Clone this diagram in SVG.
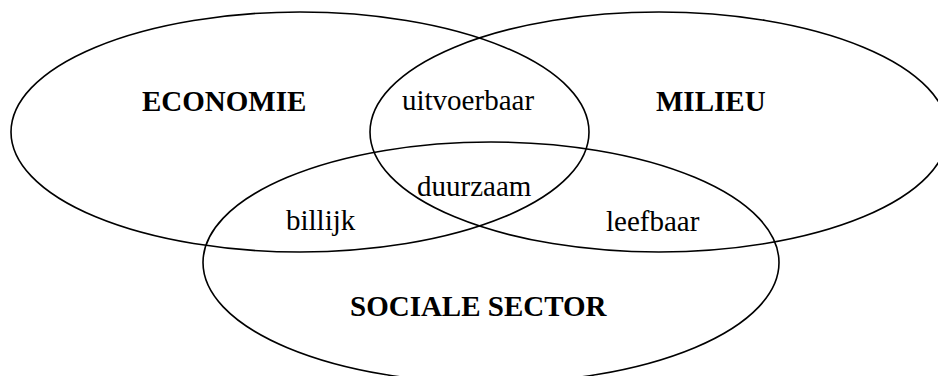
<svg xmlns="http://www.w3.org/2000/svg" width="938" height="376" viewBox="0 0 938 376">
<style>
.ell{fill:none;stroke:#000;stroke-width:1.6}
.t{font-family:"Liberation Serif","Times New Roman",serif;font-size:29px;fill:#000}
.b{font-weight:bold}
</style>
<rect width="938" height="376" fill="#fff"/>
<g id="economie">
<ellipse class="ell" cx="300" cy="132" rx="289" ry="120"/>
<text class="t b" x="142" y="111">ECONOMIE</text>
</g>
<g id="milieu">
<ellipse class="ell" cx="659" cy="132" rx="289" ry="120"/>
<text class="t b" x="656" y="111">MILIEU</text>
</g>
<g id="sociale">
<ellipse class="ell" cx="491" cy="262.5" rx="288" ry="120.5"/>
<text class="t b" x="350" y="316">SOCIALE SECTOR</text>
</g>
<g id="overlaps">
<text class="t" x="402" y="110">uitvoerbaar</text>
<text class="t" x="417" y="196">duurzaam</text>
<text class="t" x="286" y="230">billijk</text>
<text class="t" x="606" y="231">leefbaar</text>
</g>
<g id="connectors"></g>
</svg>
